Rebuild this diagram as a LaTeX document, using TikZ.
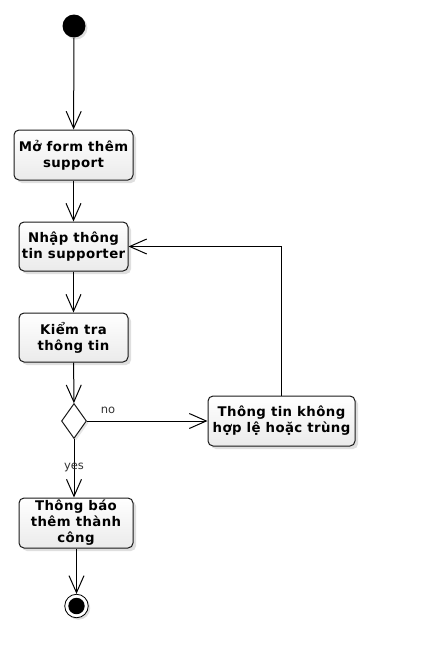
\documentclass[tikz,border=0pt]{standalone}
\usepackage{fontspec}
\setmainfont{DejaVu Sans}
\usetikzlibrary{arrows.meta,shadows,shapes.geometric}
\begin{document}
\begin{tikzpicture}[x=1pt, y=-1pt, line width=1pt,
		activity/.style={rectangle, rounded corners=5pt, draw=black!90, top color=white, bottom color=black!8,
			drop shadow={shadow xshift=3pt, shadow yshift=-3pt, opacity=0.25},
			inner sep=0pt, align=center, font=\fontsize{13.3}{16}\selectfont\bfseries\addfontfeature{LetterSpace=3}},
		decision/.style={diamond, draw=black!90, fill=white, inner sep=0pt, minimum width=25pt, minimum height=35pt,
			drop shadow={shadow xshift=2pt, shadow yshift=-2pt, opacity=0.2}},
		flow/.style={-{Straight Barb[length=17pt,width=15pt]}},
		guard/.style={font=\fontsize{11.5}{13}\selectfont, text=black!80}
		]
	\useasboundingbox (0,0) rectangle (433,659);
	\node [circle, fill=black, minimum size=23pt, inner sep=0pt,
		drop shadow={shadow xshift=2pt, shadow yshift=-2pt, opacity=0.25}] (start) at (74,26) {};
	\node [activity, minimum width=119pt, minimum height=50pt] (openform) at (73.5,155) {Mở form thêm\\support};
	\node [activity, minimum width=109pt, minimum height=49pt] (input) at (73.5,246.5) {Nhập thông\\tin supporter};
	\node [activity, minimum width=109pt, minimum height=49pt] (check) at (73.5,337.5) {Kiểm tra\\thông tin};
	\node [decision] (valid) at (74,421) {};
	\node [activity, minimum width=147pt, minimum height=50pt] (invalid) at (281.5,421) {Thông tin không\\hợp lệ hoặc trùng};
	\node [activity, minimum width=114pt, minimum height=50pt] (success) at (76,523) {Thông báo\\thêm thành\\công};
	\node [circle, draw=black, fill=white, minimum size=23.5pt, inner sep=0pt, line width=0.8pt,
		drop shadow={shadow xshift=2pt, shadow yshift=-2pt, opacity=0.25}] (stop) at (76.5,606) {};
	\fill (stop.center) circle (8.2pt);

	\draw [flow] (start) -- (openform);
	\draw [flow] (openform) -- (input);
	\draw [flow] (input) -- (check);
	\draw [flow] (check) -- (valid);
	\draw [flow] (valid) -- (invalid);
	\draw [flow] (valid.south) -- (valid.south |- success.north);
	\draw [flow] (success.south -| stop) -- (stop);
	\draw [flow] (invalid.north) |- (input.east);
	\node [guard] (nolabel) at (108,410) {no};
	\node [guard] (yeslabel) at (74,467) {yes};
\end{tikzpicture}
\end{document}
